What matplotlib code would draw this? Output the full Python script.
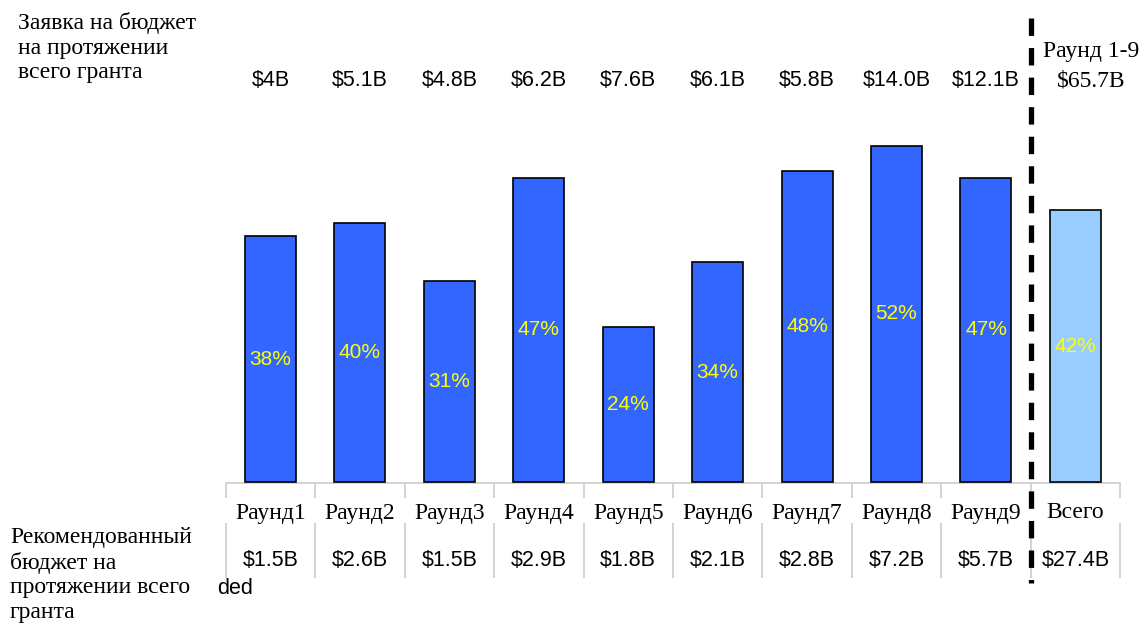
import matplotlib
matplotlib.use('Agg')
import matplotlib.pyplot as plt

# раунды финансирования и доля рекомендованного бюджета от заявки, %
rounds = ['Раунд1', 'Раунд2', 'Раунд3', 'Раунд4', 'Раунд5',
          'Раунд6', 'Раунд7', 'Раунд8', 'Раунд9', 'Всего']
share = [38, 40, 31, 47, 24, 34, 48, 52, 47, 42]
requested = ['$4B', '$5.1B', '$4.8B', '$6.2B', '$7.6B',
             '$6.1B', '$5.8B', '$14.0B', '$12.1B']
requested_total = '$65.7B'
recommended = ['$1.5B', '$2.6B', '$1.5B', '$2.9B', '$1.8B',
               '$2.1B', '$2.8B', '$7.2B', '$5.7B', '$27.4B']

SANS = 'Liberation Sans'
SERIF = 'Liberation Serif'
BLUE = '#3366ff'
LIGHT = '#99ccff'
YELLOW = '#ffff00'

W, H = 1141, 623
fig = plt.figure(figsize=(W / 100, H / 100), dpi=100)
ax = fig.add_axes([0, 0, 1, 1])
ax.axis('off')

step = 89.43      # px на одну категорию
x0 = 270.5        # центр первой категории, px
base = 482        # нулевая линия, px сверху
k = 6.47          # px на один процент
ax.set_xlim(-x0 / step, (W - x0) / step)
ax.set_ylim(-(H - base) / k, base / k)


def fy(p):
    # строка в пикселях -> доля высоты осей
    return 1 - p / H


xt = ax.get_xaxis_transform()
n = len(rounds)
xs = list(range(n))
colors = [BLUE] * (n - 1) + [LIGHT]

ax.bar(xs, share, width=0.57, color=colors, edgecolor='black',
       linewidth=1.2, zorder=3)

for i, v in enumerate(share):
    ax.text(i, v / 2, f'{v}%', ha='center', va='center', color=YELLOW,
            fontsize=15, family=SANS, zorder=4)

# таблица под столбцами
ax.plot([-0.5, n - 0.5], [fy(483), fy(483)], transform=xt,
        color='#cccccc', lw=1.2, zorder=1)
seps = [i - 0.5 for i in range(n + 1)]
ax.vlines(seps, fy(498), fy(483), transform=xt, color='#cccccc', lw=1.2)
ax.vlines(seps, fy(578), fy(523), transform=xt, color='#cccccc', lw=1.2)

for i in xs:
    ax.text(i, fy(513), rounds[i], transform=xt, ha='center', va='center',
            fontsize=17, family=SERIF)
    ax.text(i, fy(561), recommended[i], transform=xt, ha='center',
            va='center', fontsize=15.5, family=SANS)

for i, lab in enumerate(requested):
    ax.text(i, fy(80), lab, transform=xt, ha='center', va='center',
            fontsize=15.5, family=SANS)

fig.text(1091 / W, fy(52), 'Раунд 1-9', ha='center', va='center',
         fontsize=17, family=SERIF)
fig.text(1091 / W, fy(81), requested_total, ha='center', va='center',
         fontsize=17, family=SERIF)

# разделитель между раундами и итогом
ax.plot([n - 1.5, n - 1.5], [fy(18), fy(583)], transform=xt, color='black',
        lw=3.8, linestyle=(0, (3.3, 2.3)), solid_capstyle='butt', zorder=5)

fig.text(18 / W, fy(12), 'Заявка на бюджет\nна протяжении\nвсего гранта',
         ha='left', va='top', fontsize=17, family=SERIF, linespacing=1.22)
fig.text(10 / W, fy(527), 'Рекомендованный\nбюджет на\nпротяжении всего\nгранта',
         ha='left', va='top', fontsize=17, family=SERIF, linespacing=1.22)
fig.text(217 / W, fy(588), 'ded', ha='left', va='center', fontsize=15.5,
         family=SANS)

fig.savefig('out.png', dpi=100)
